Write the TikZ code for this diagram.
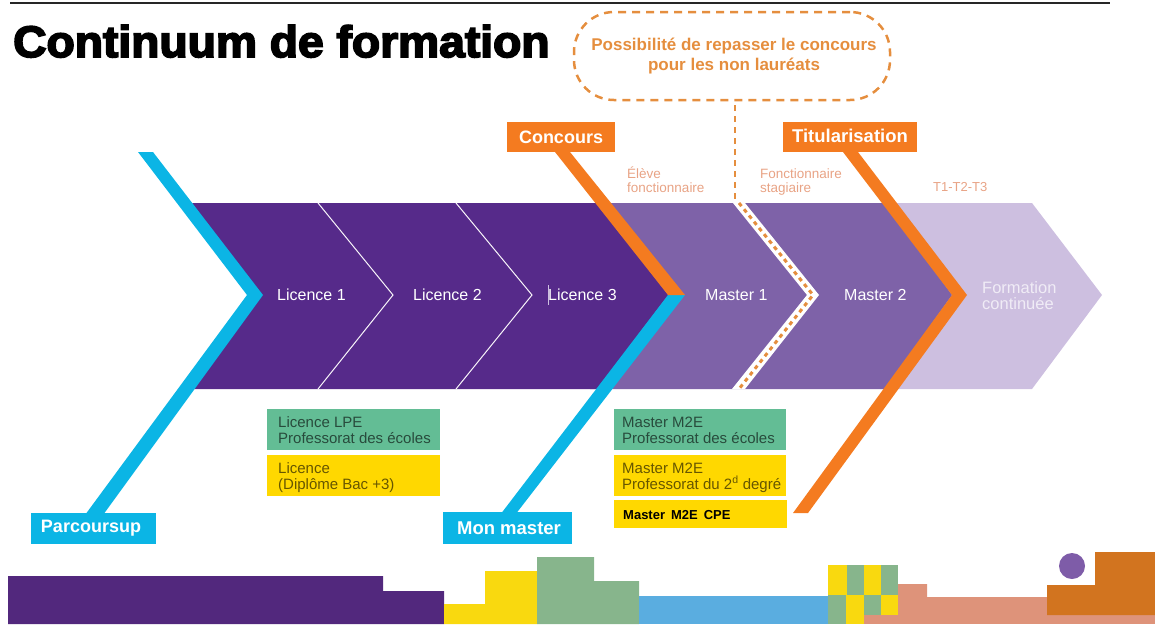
\documentclass[tikz,border=0pt]{standalone}
\usepackage{fontspec}
\setmainfont{Liberation Sans}
\newfontfamily\titlefont[UprightFont={* Bold},FakeBold=4,FakeStretch=1.05]{Liberation Sans}
\definecolor{darkp}{HTML}{562A8A}
\definecolor{midp}{HTML}{7E62A8}
\definecolor{lightp}{HTML}{CDBFE0}
\definecolor{orangeb}{HTML}{F47B20}
\definecolor{cyanb}{HTML}{0BB5E5}
\definecolor{greenb}{HTML}{63BD95}
\definecolor{yellowb}{HTML}{FFD800}
\definecolor{callc}{HTML}{E58E3E}
\definecolor{roleC}{HTML}{E8A385}
\definecolor{strip1}{HTML}{52287D}
\definecolor{strip2}{HTML}{F9D90F}
\definecolor{strip3}{HTML}{87B58C}
\definecolor{strip4}{HTML}{5AADE0}
\definecolor{strip5}{HTML}{DE937A}
\definecolor{strip6}{HTML}{D2741F}
\definecolor{strip7}{HTML}{7E5CA8}
\tikzset{
  stage/.style={anchor=base west,inner sep=0pt,text=white,font=\fontsize{16}{16}\selectfont},
  role/.style={anchor=base west,inner sep=0pt,text=roleC,align=left,font=\fontsize{13.5}{14}\selectfont},
  tag/.style={inner sep=0pt,text=white,font=\fontsize{18}{20}\selectfont\bfseries},
  info/.style={inner sep=0pt,anchor=base west,align=left,font=\fontsize{15}{16}\selectfont},
}
\begin{document}
\begin{tikzpicture}[x=1pt,y=-1pt]
\useasboundingbox (0,0) rectangle (1155,624);
% top rule and title
\draw[line width=1.5pt,black!85] (10,3) -- (1110,3);
\node[anchor=base west,inner sep=0pt,font=\fontsize{44}{48}\selectfont\titlefont] (title) at (13,57) {Continuum de formation};
% arrow bands
\fill[lightp] (880,203) -- (1032,203) -- (1102,295) -- (1032,389) -- (880,389) -- (950,295) -- cycle;
\fill[midp] (590,203) -- (885,203) -- (952,295) -- (885,389) -- (590,389) -- (640,295) -- cycle;
\fill[darkp] (192,203) -- (597,203) -- (668,295) -- (597,389) -- (192,389) -- (255,295) -- cycle;
% thin white separators
\draw[white!85!lightp,line width=1pt] (318,203) -- (393,295) -- (318,389);
\draw[white!85!lightp,line width=1pt] (456,203) -- (532,295) -- (456,389);
% white dotted separator
\fill[white] (733,203) -- (745,203) -- (819,295) -- (745,389) -- (732,389) -- (807,295) -- cycle;
\draw[callc,line width=3pt,dash pattern=on 4pt off 4pt] (739,203) -- (813,295) -- (739,389);
% chevron bars
\fill[cyanb] (138,152) -- (153,152) -- (263,295) -- (103,515) -- (85,515) -- (247,295) -- cycle;
\fill[cyanb] (668,295) -- (685,295) -- (515,515) -- (500,515) -- cycle;
\fill[orangeb] (555,152) -- (570,152) -- (685,295) -- (668,295) -- cycle;
\fill[orangeb] (843,152) -- (858,152) -- (967,295) -- (808,513) -- (793,513) -- (952,295) -- cycle;
% tags
\node[tag,fill=orangeb,minimum width=108pt,minimum height=30pt] (concours) at (561,137) {Concours};
\node[tag,fill=orangeb,minimum width=134pt,minimum height=30pt,font=\fontsize{18.5}{20}\selectfont\bfseries] (titul) at (850,137) {\raisebox{1.5pt}{Titularisation}};
\node[tag,fill=cyanb,minimum width=125pt,minimum height=31pt] (parcoursup) at (93.5,528.5) {\hspace{-5pt}\raisebox{-1.5pt}{Parcoursup}};
\node[tag,fill=cyanb,minimum width=129pt,minimum height=32pt,font=\fontsize{18.5}{20}\selectfont\bfseries] (monmaster) at (507.5,528) {\hspace{3pt}Mon master};
% callout
\node[draw=callc,line width=2.5pt,dash pattern=on 8pt off 6pt,rounded corners=40pt,minimum width=316pt,minimum height=88pt,inner sep=0pt,align=center,text=callc,font=\fontsize{17}{20}\selectfont\bfseries] (callout) at (732,56) {\hspace{4pt}Possibilité de repasser le concours\\\hspace{4pt}pour les non lauréats\rule[-3pt]{0pt}{1pt}};
\coordinate (dashend) at (735,200);
\draw[callc,line width=2pt,dash pattern=on 6pt off 5pt] ([yshift=-4pt]callout.south -| dashend) -- (dashend);
% stage labels
\node[stage] (l1) at (277,300) {Licence 1};
\node[stage] (l2) at (413,300) {Licence 2};
\node[stage] (l3) at (548,300) {Licence 3};
\draw[lightp,line width=.5pt] (548,285) -- (548,305);
\node[stage] (m1) at (705,300) {Master 1};
\node[stage] (m2) at (844,300) {Master 2};
\node[stage,text=white!70!lightp,align=left,font=\fontsize{16.5}{16}\selectfont] (fc) at (982,309) {Formation\\continuée};
\node[role] (ef) at (627,192) {Élève\\fonctionnaire};
\node[role] (fs) at (760,192) {Fonctionnaire\\stagiaire};
\node[role,font=\fontsize{13}{14}\selectfont] (t) at (933,191) {T1-T2-T3};
% info boxes
\fill[greenb] (267,409) rectangle (440,450);
\fill[yellowb] (267,455) rectangle (440,496);
\fill[greenb] (614,409) rectangle (786,450);
\fill[yellowb] (614,455) rectangle (786,496);
\fill[yellowb] (614,500) rectangle (787,528);
\node[info,text=black!60!greenb] (a) at (278,443) {Licence LPE\\Professorat des écoles};
\node[info,text=black!60!yellowb] (b) at (278,489) {Licence\\(Diplôme Bac +3)};
\node[info,text=black!60!greenb] (c) at (622,443) {Master M2E\\Professorat des écoles};
\node[info,text=black!60!yellowb] (d) at (622,489) {Master M2E\\Professorat du 2\textsuperscript{d} degré};
\node[info,text=black,font=\fontsize{13}{14}\selectfont\bfseries] (e) at (623,519) {Master\hspace{6pt}M2E\hspace{6pt}CPE};
% bottom strip
\fill[strip5] (864,615) -- (864,624) -- (1155,624) -- (1155,615) -- cycle;
\fill[strip5] (895,584) -- (927,584) -- (927,597) -- (1050,597) -- (1050,616) -- (864,616) -- (864,610) -- (895,610) -- cycle;
\fill[strip6] (1047,585) -- (1095,585) -- (1095,552) -- (1155,552) -- (1155,615) -- (1047,615) -- cycle;
\fill[strip7] (1072,566) circle (13);
\fill[strip1] (8,576) -- (383,576) -- (383,591) -- (444,591) -- (444,624) -- (8,624) -- cycle;
\fill[strip2] (444,604) -- (485,604) -- (485,571) -- (537,571) -- (537,624) -- (444,624) -- cycle;
\fill[strip3] (537,557) -- (594,557) -- (594,581) -- (639,581) -- (639,624) -- (537,624) -- cycle;
\fill[strip4] (639,596) rectangle (830,624);
\fill[strip2] (828,565) rectangle (847,595);
\fill[strip3] (847,565) rectangle (864,595);
\fill[strip2] (864,565) rectangle (881,595);
\fill[strip3] (881,565) rectangle (898,595);
\fill[strip3] (828,595) rectangle (846,624);
\fill[strip2] (846,595) rectangle (864,624);
\fill[strip3] (864,595) rectangle (881,615);
\fill[strip2] (881,595) rectangle (898,615);
\end{tikzpicture}
\end{document}
